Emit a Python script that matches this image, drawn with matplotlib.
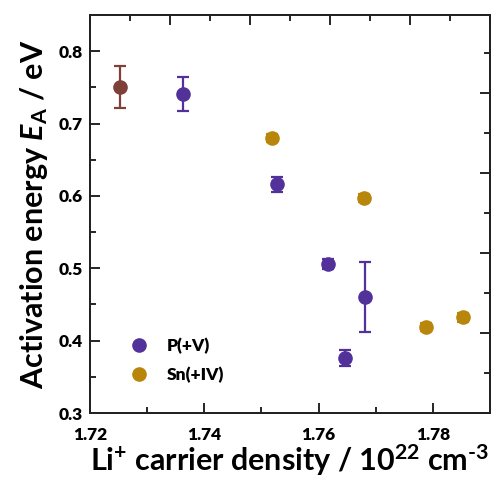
import matplotlib
matplotlib.use("Agg")
import matplotlib.pyplot as plt
from matplotlib.ticker import MultipleLocator

# data
ref_x = [1.7252]
ref_y = [0.750]
ref_err = [0.029]

p_x = [1.7363, 1.7528, 1.7617, 1.7647, 1.7682]
p_y = [0.741, 0.616, 0.506, 0.376, 0.460]
p_err = [0.023, 0.010, 0.007, 0.011, 0.048]

sn_x = [1.7518, 1.7679, 1.7788, 1.7852]
sn_y = [0.680, 0.597, 0.419, 0.432]
sn_err = [0.006, 0.006, 0.006, 0.006]

col_ref = "#80403A"
col_p = "#52329A"
col_sn = "#B8860B"

plt.rcParams["font.family"] = ["Lato", "DejaVu Sans"]
plt.rcParams["font.weight"] = "bold"
plt.rcParams["axes.labelweight"] = "bold"
plt.rcParams["mathtext.fontset"] = "custom"
plt.rcParams["mathtext.rm"] = "Lato:bold"
plt.rcParams["mathtext.it"] = "Lato:italic:bold"
plt.rcParams["mathtext.bf"] = "Lato:bold"

fig = plt.figure(figsize=(4.94, 4.8), dpi=100)
ax = fig.add_axes([90 / 494, 67 / 480, 400 / 494, 398 / 480])

kw = dict(fmt="o", markersize=9.5, capsize=4, elinewidth=1.6, capthick=1.6)
ax.errorbar(ref_x, ref_y, yerr=ref_err, color=col_ref, **kw)
ax.errorbar(p_x, p_y, yerr=p_err, color=col_p, label="P(+V)", **kw)
ax.errorbar(sn_x, sn_y, yerr=sn_err, color=col_sn, label="Sn(+IV)", **kw)

ax.set_xlim(1.72, 1.79)
ax.set_ylim(0.3, 0.85)
ax.xaxis.set_minor_locator(MultipleLocator(0.01))
ax.yaxis.set_minor_locator(MultipleLocator(0.05))
ax.set_xticks([1.72, 1.74, 1.76, 1.78])
ax.set_yticks([0.3, 0.4, 0.5, 0.6, 0.7, 0.8])
ax.tick_params(which="major", direction="in", length=7, width=1.2, labelsize=12.5)
ax.tick_params(axis="x", which="major", pad=10)
ax.tick_params(axis="y", which="major", pad=5)
ax.tick_params(which="minor", direction="in", length=4, width=1.2)
for lbl in ax.get_xticklabels() + ax.get_yticklabels():
    lbl.set_fontweight("heavy")
for spine in ax.spines.values():
    spine.set_linewidth(1.3)
    spine.set_color("#222222")

ax.set_xlabel("Li$^{+}$ carrier density / 10$^{22}$ cm$^{\\text{-3}}$", fontsize=22, labelpad=0)
ax.set_ylabel("Activation energy $E_{\\mathrm{A}}$ / eV", fontsize=22, labelpad=6)

# top and right frame ticks (not linked to the data scale in the original)
top = ax.twiny()
top.set_xlim(0, 400)
top.xaxis.set_major_locator(MultipleLocator(80))
top.xaxis.set_minor_locator(MultipleLocator(40))
top.tick_params(which="major", direction="in", length=7, width=1.2, labeltop=False)
top.tick_params(which="minor", direction="in", length=4, width=1.2)
right = ax.twinx()
right.set_ylim(0, 398)
right.yaxis.set_major_locator(MultipleLocator(80))
right.yaxis.set_minor_locator(MultipleLocator(40))
right.tick_params(which="major", direction="in", length=7, width=1.2, labelright=False)
right.tick_params(which="minor", direction="in", length=4, width=1.2)
for a in (top, right):
    for spine in a.spines.values():
        spine.set_linewidth(1.3)
        spine.set_color("#222222")

handles, labels = ax.get_legend_handles_labels()
handles = [h[0] for h in handles]
ax.legend(handles, labels, loc="lower left", bbox_to_anchor=(0.04, 0.035), frameon=False,
          prop={"size": 12.5, "weight": "heavy"}, handletextpad=0.6, labelspacing=0.75)

fig.savefig("out.png", dpi=100)
